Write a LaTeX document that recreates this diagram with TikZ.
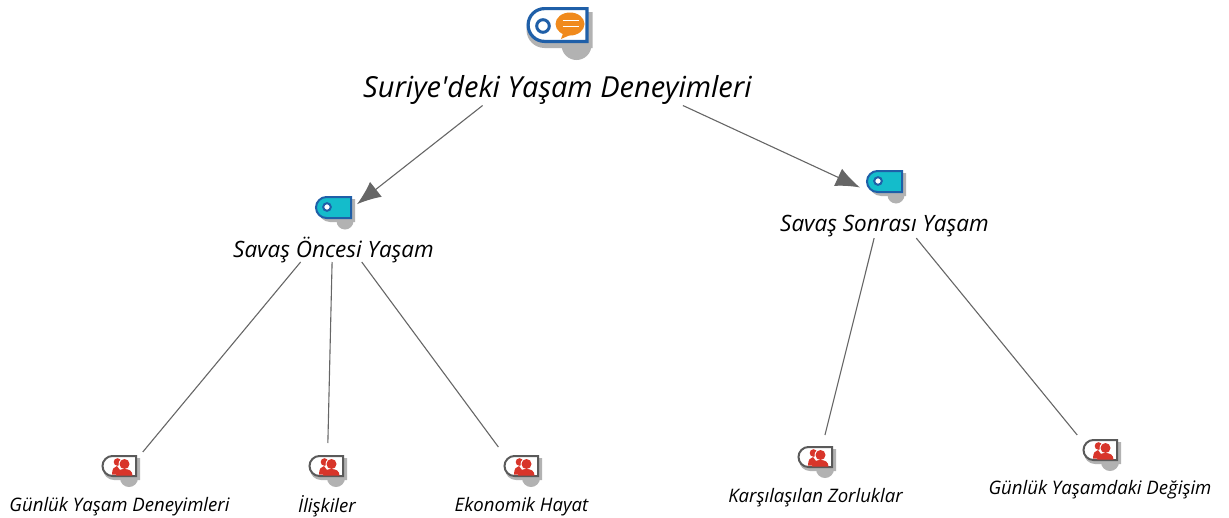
\documentclass[tikz,border=0pt]{standalone}
\usepackage{fontspec}
\setmainfont{Open Sans}
\newfontfamily\plainfont{Open Sans}
\usetikzlibrary{arrows.meta}
\definecolor{shadowc}{HTML}{B2B2B2}
\definecolor{linkc}{HTML}{666666}
\definecolor{tagblue}{HTML}{1F5FA8}
\definecolor{tagcyan}{HTML}{14BCCB}
\definecolor{tagorange}{HTML}{F08A1D}
\definecolor{caseborder}{HTML}{5A5A5A}
\definecolor{casered}{HTML}{D8352A}
\tikzset{
  x=1pt,y=-1pt,
  hub/.style={rectangle,inner sep=0pt,outer sep=0pt,minimum width=#1},
  hub/.default=60pt,
  title/.style={font=\plainfont\fontsize{29}{34}\selectfont\itshape,inner sep=0pt,text=black},
  midlabel/.style={font=\fontsize{22.5}{27}\selectfont\itshape,inner sep=0pt,text=black},
  leaflabel/.style={font=\fontsize{18.6}{22}\selectfont\itshape,inner sep=0pt,text=black},
  link/.style={draw=linkc,line width=1.1pt},
  arrowlink/.style={link,-{Latex[length=24pt,width=19pt,fill=linkc]}},
  tagbig/.pic={
    \fill[shadowc] (50,38) circle (15);
    \fill[shadowc] (18,41) arc (90:270:18) -- (66,5) -- (66,41) -- cycle;
    \draw[tagblue,fill=white,line width=3.2pt] (18,34.4) arc (90:270:16.4) -- (60.4,1.6) -- (60.4,34.4) -- cycle;
    \draw[tagblue,line width=3pt] (16.5,19) circle (6.3);
    \fill[tagorange] (43.5,17) ellipse (14.5 and 11.5);
    \fill[tagorange] (37,25) -- (34.5,32) -- (46,27) -- cycle;
    \draw[white,line width=1.8pt] (36,13.5) -- (52,13.5) (36,19.5) -- (52,19.5);
  },
  tagmid/.pic={
    \fill[shadowc] (30,25) circle (8.5);
    \fill[shadowc] (15,26) arc (90:270:11.5) -- (40,3) -- (40,26) -- cycle;
    \draw[tagblue,fill=tagcyan,line width=2pt] (11.5,22) arc (90:270:10.5) -- (36,1) -- (36,22) -- cycle;
    \draw[tagblue,fill=white,line width=2pt] (12,11) circle (3.8);
  },
  tagleaf/.pic={
    \fill[shadowc] (28,23) circle (9);
    \fill[shadowc] (13,25) arc (90:270:11) -- (39,3) -- (39,25) -- cycle;
    \draw[caseborder,fill=white,line width=2pt] (11.5,21) arc (90:270:10) -- (35,1) -- (35,21) -- cycle;
    \fill[casered] (16.5,7) circle (3.8);
    \fill[casered] (11,19.5) .. controls (11,14) and (13,11.5) .. (16,11) -- (19,15) -- (17,19.5) -- cycle;
    \fill[white] (23.5,9) circle (5.9);
    \fill[casered] (23.5,9) circle (5);
    \fill[casered] (15,20.5) .. controls (15,16) and (19,14) .. (23.5,14) .. controls (28,14) and (31.5,16) .. (31.5,20.5) -- cycle;
  },
}
\begin{document}
\begin{tikzpicture}
\useasboundingbox (0,0) rectangle (1229,517);
% labels
\node[title] (rootlabel) at (557.5,90) {Suriye'deki Yaşam Deneyimleri};
\node[midlabel] (prelabel) at (333.5,250) {Savaş Öncesi Yaşam};
\node[midlabel] (postlabel) at (884.5,226.5) {Savaş Sonrası Yaşam};
\node[leaflabel] (aLabel) at (119.5,506.5) {Günlük Yaşam Deneyimleri};
\node[leaflabel] (bLabel) at (327,506.5) {İlişkiler};
\node[leaflabel] (cLabel) at (521.5,506.5) {Ekonomik Hayat};
\node[leaflabel] (dLabel) at (815.5,497.5) {Karşılaşılan Zorluklar};
\node[leaflabel] (eLabel) at (1100,490) {Günlük Yaşamdaki Değişim};
% icons
\pic at (526.5,7) {tagbig};
\pic at (315,196) {tagmid};
\pic at (866,170) {tagmid};
\pic at (101,455) {tagleaf};
\pic at (308,455) {tagleaf};
\pic at (503,455) {tagleaf};
\pic at (797,446) {tagleaf};
\pic at (1082,439) {tagleaf};
% invisible hubs the links attach to
\node[hub=400pt,minimum height=117pt] (root) at (557,47) {};
\node[hub=70pt,minimum height=78pt] (pre) at (333,223) {};
\node[hub=70pt,minimum height=79pt] (post) at (884,198.6) {};
\node[hub,minimum height=38pt] (a) at (127,471) {};
\node[hub,minimum height=74pt] (b) at (327,480) {};
\node[hub,minimum height=64pt] (c) at (522,479) {};
\node[hub,minimum height=48pt] (d) at (819,459) {};
\node[hub,minimum height=56pt] (e) at (1100,463) {};
% links
\draw[arrowlink,shorten >=-14pt] (root) -- (pre);
\draw[arrowlink,shorten >=-12pt] (root) -- (post);
\draw[link] (pre) -- (a);
\draw[link] (pre) -- (b);
\draw[link] (pre) -- (c);
\draw[link] (post) -- (d);
\draw[link] (post) -- (e);
\end{tikzpicture}
\end{document}
